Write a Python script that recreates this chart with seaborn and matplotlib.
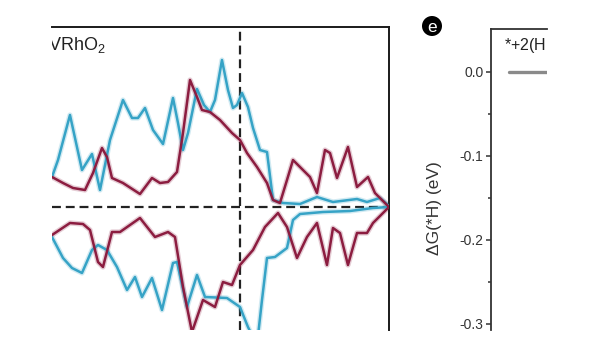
import matplotlib
matplotlib.use("Agg")
import matplotlib.pyplot as plt
import pandas as pd
import seaborn as sns
from matplotlib.patches import Circle

# ---------------- data ----------------
# Panel d: projected DOS of VRhO2 (energy relative to E_F, arbitrary DOS units)
teal_up_energy = [-4.476, -4.333, -4.048, -3.762, -3.524, -3.333, -3.095, -2.786, -2.571,
                  -2.429, -2.262, -2.071, -1.833, -1.595, -1.476, -1.357, -1.238, -1.024,
                  -0.857, -0.714, -0.595, -0.429, -0.286, -0.167, -0.071, 0.048, 0.190,
                  0.310, 0.476, 0.643, 0.786, 1.024, 1.429, 1.833, 2.214, 2.786, 3.024,
                  3.333, 3.548]
teal_up_dos = [3.0, 4.7, 9.2, 3.7, 5.3, 1.7, 6.7, 10.7, 8.9,
               8.9, 9.9, 7.7, 6.3, 10.9, 8.4, 5.7, 7.4, 11.8,
               10.2, 9.5, 10.7, 14.7, 11.7, 9.9, 10.2, 11.4, 10.0,
               7.9, 5.7, 5.5, 0.7, 0.4, 0.3, 1.0, 0.5, 0.8, 0.5,
               0.9, 0.1]

red_up_energy = [-4.476, -4.214, -3.976, -3.690, -3.500, -3.286, -3.167, -3.048, -2.786,
                 -2.381, -2.095, -1.905, -1.714, -1.500, -1.357, -1.190, -1.024, -0.905,
                 -0.714, -0.476, -0.190, 0.000, 0.167, 0.405, 0.643, 0.786, 0.952, 1.119,
                 1.262, 1.500, 1.667, 1.833, 2.024, 2.143, 2.310, 2.571, 2.786, 3.048,
                 3.214, 3.548]
red_up_dos = [3.0, 2.4, 1.9, 1.7, 3.4, 5.9, 5.0, 2.9, 2.4,
              1.3, 2.9, 2.4, 2.5, 3.5, 7.4, 12.7, 11.0, 9.7,
              9.5, 8.7, 7.4, 6.7, 5.4, 4.0, 2.4, 0.7, 0.4, 2.7,
              4.7, 3.7, 3.0, 1.4, 5.7, 5.4, 2.9, 6.0, 2.0, 3.0,
              1.4, 0.0]

teal_dn_energy = [-4.476, -4.214, -4.000, -3.762, -3.524, -3.381, -3.167, -2.929, -2.690,
                  -2.500, -2.333, -2.095, -1.857, -1.595, -1.500, -1.262, -1.024, -0.833,
                  -0.310, 0.000, 0.190, 0.405, 0.524, 0.643, 0.833, 1.119, 1.262, 1.429,
                  1.976, 2.619, 3.167, 3.548]
teal_dn_dos = [-3.0, -5.1, -6.1, -6.6, -4.3, -3.8, -4.3, -6.0, -8.3,
               -7.0, -9.0, -7.1, -10.3, -5.6, -5.5, -10.0, -6.8, -9.0,
               -9.1, -10.0, -12.0, -13.8, -9.3, -5.1, -5.0, -4.1, -1.3, -0.7,
               -0.5, -0.4, -0.1, 0.0]

red_dn_energy = [-4.476, -4.048, -3.738, -3.571, -3.381, -3.262, -3.048, -2.857, -2.381,
                 -2.024, -1.714, -1.548, -1.357, -1.143, -0.881, -0.595, -0.405, -0.190,
                 0.000, 0.310, 0.595, 0.905, 1.119, 1.357, 1.595, 1.833, 2.071, 2.214,
                 2.381, 2.571, 2.786, 3.024, 3.167, 3.548]
red_dn_dos = [-2.8, -1.6, -1.7, -2.3, -5.5, -6.0, -2.5, -2.5, -1.1,
              -3.0, -2.5, -3.0, -8.0, -12.5, -9.3, -10.0, -7.5, -7.8,
              -5.8, -4.3, -2.0, -0.6, -2.0, -5.1, -3.0, -1.6, -5.8, -2.1,
              -2.6, -5.8, -2.6, -2.6, -1.6, 0.0]

dos_label = "VRhO$_\\mathregular{2}$"

# Panel e: free-energy diagram (only the first state is visible)
state_labels = ["*+2(H$^+$+e$^-$)"]
state_energy = [0.0]
ge_ticks = [0.0, -0.1, -0.2, -0.3]
ge_tick_labels = ["0.0", "-0.1", "-0.2", "-0.3"]
ge_minor_ticks = [-0.05, -0.15, -0.25]

# ---------------- style ----------------
sns.set_style("ticks")
plt.rcParams['font.family'] = ['Liberation Sans', 'DejaVu Sans']
plt.rcParams['mathtext.fontset'] = 'custom'
plt.rcParams['mathtext.rm'] = 'Liberation Sans'
plt.rcParams['mathtext.it'] = 'Liberation Sans:italic'

RED = "#8C1D40"
TEAL = "#36A3C6"
W, H = 600, 338
fig = plt.figure(figsize=(W / 100, H / 100), dpi=100)


def px_axes(x0, y0, x1, y1):
    return fig.add_axes([x0 / W, 1 - y1 / H, (x1 - x0) / W, (y1 - y0) / H])


# ---------------- panel d (DOS) ----------------
ax = px_axes(52, 27, 389, 330)
frames = []
for name, e, d, col in [("teal_up", teal_up_energy, teal_up_dos, "teal"),
                        ("red_up", red_up_energy, red_up_dos, "red"),
                        ("teal_dn", teal_dn_energy, teal_dn_dos, "teal"),
                        ("red_dn", red_dn_energy, red_dn_dos, "red")]:
    frames.append(pd.DataFrame({"energy": e, "dos": d, "curve": name, "element": col}))
df = pd.concat(frames, ignore_index=True)

ax.axhline(0, color="#222222", lw=1.6, ls=(0, (4, 2.2)), zorder=1)
ax.axvline(0, color="#222222", lw=1.6, ls=(0, (4, 2.2)), zorder=1)

# soft halo (the reference lines are slightly blurred)
sns.lineplot(data=df, x="energy", y="dos", hue="element", units="curve",
             estimator=None, sort=False, palette={"teal": TEAL, "red": RED},
             lw=3.8, alpha=0.22, legend=False, ax=ax, zorder=2)
sns.lineplot(data=df, x="energy", y="dos", hue="element", units="curve",
             estimator=None, sort=False, palette={"teal": TEAL, "red": RED},
             lw=1.8, legend=False, ax=ax, zorder=3)
for ln in ax.lines:
    ln.set_solid_joinstyle("round")
    ln.set_solid_capstyle("round")

ax.set_xlim(-4.476, 3.548)
ax.set_ylim(-12.3, 18.0)
ax.set_xticks([])
ax.set_yticks([])
ax.set_xlabel("")
ax.set_ylabel("")
for s in ["left", "bottom"]:
    ax.spines[s].set_visible(False)
for s in ["top", "right"]:
    ax.spines[s].set_linewidth(1.4)
    ax.spines[s].set_color("#1a1a1a")
ax.text(-4.58, 15.7, dos_label, fontsize=13, color="#222222", va="baseline",
        ha="left", clip_on=True)

# ---------------- panel e (free energy) ----------------
ax2 = px_axes(491, 29, 547, 330)
lvl = pd.DataFrame({"x": [0.0, 1.6], "G": [state_energy[0]] * 2})
sns.lineplot(data=lvl, x="x", y="G", color="#8a8a8a", lw=2.4, ax=ax2, legend=False)
ax2.set_xlim(-0.5, 1.1)
ax2.set_ylim(-0.3077, 0.0506)
ax2.set_xticks([])
ax2.set_xlabel("")
ax2.set_yticks(ge_ticks)
ax2.set_yticklabels(ge_tick_labels)
ax2.set_yticks(ge_minor_ticks, minor=True)
ax2.tick_params(axis="y", which="major", length=3.5, width=1.1, pad=2,
                labelsize=10, colors="#333333", direction="out")
ax2.tick_params(axis="y", which="minor", length=2, width=1.1, colors="#333333",
                direction="out")
for s in ["right", "bottom"]:
    ax2.spines[s].set_visible(False)
for s in ["left", "top"]:
    ax2.spines[s].set_linewidth(1.3)
    ax2.spines[s].set_color("#333333")
ax2.set_ylabel("ΔG(*H) (eV)", fontsize=12.5, color="#333333")
ax2.yaxis.label.set_verticalalignment("center")
ax2.yaxis.set_label_coords((434 - 491) / 56, 1 - (208 - 29) / 301)
ax2.text(-0.12, 0.024, state_labels[0], fontsize=11.5, color="#222222",
         ha="left", va="baseline", clip_on=True)

# panel letter
fig.patches.append(Circle((4.32, (H - 26) / 100), 0.10, transform=fig.dpi_scale_trans,
                          facecolor="black", edgecolor="none"))
fig.text(432 / W, 1 - 26 / H, "e", color="white", fontsize=12.5,
         ha="center", va="center_baseline")

fig.savefig("out.png", dpi=100)
